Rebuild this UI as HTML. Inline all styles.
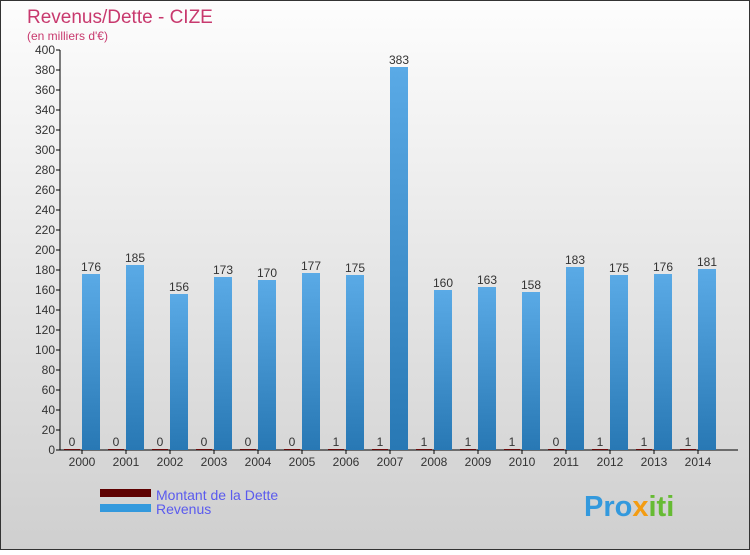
<!DOCTYPE html>
<html><head><meta charset="utf-8"><style>
html,body{margin:0;padding:0;}
body{width:750px;height:550px;overflow:hidden;font-family:"Liberation Sans",sans-serif;}
</style></head><body>
<svg width="750" height="550" xmlns="http://www.w3.org/2000/svg">
<defs>
<linearGradient id="bg" x1="0" y1="0" x2="0" y2="1"><stop offset="0" stop-color="#fdfdfd"/><stop offset="1" stop-color="#cfcfcf"/></linearGradient>
<linearGradient id="rev" x1="0" y1="0" x2="0" y2="1"><stop offset="0" stop-color="#5aaae6"/><stop offset="1" stop-color="#2878b4"/></linearGradient>
</defs>
<rect x="0.5" y="0.5" width="749" height="549" fill="url(#bg)" stroke="#333"/>
<text x="27" y="23" font-size="19" fill="#c8396e">Revenus/Dette - CIZE</text>
<text x="27" y="40" font-size="12" fill="#c8396e">(en milliers d'€)</text>
<g id="axes"></g>
<g id="bars"></g>
<g>
<rect x="100" y="489" width="51" height="8" fill="#5e0000"/>
<text x="156" y="500" font-size="14" fill="#5a5aee">Montant de la Dette</text>
<rect x="100" y="504" width="51" height="8" fill="#3399dd"/>
<text x="156" y="514" font-size="14" fill="#5a5aee">Revenus</text>
</g>
<text x="584" y="516" font-size="29" font-weight="bold" fill="#3399dd">Pro<tspan fill="#f39c12">x</tspan><tspan fill="#66bb33">iti</tspan></text>
</svg>
<script>
const years=['2000','2001','2002','2003','2004','2005','2006','2007','2008','2009','2010','2011','2012','2013','2014'];
const revenus=[176,185,156,173,170,177,175,383,160,163,158,183,175,176,181];
const dette=[0,0,0,0,0,0,1,1,1,1,1,0,1,1,1];
const yTicks=[0,20,40,60,80,100,120,140,160,180,200,220,240,260,280,300,320,340,360,380,400];
const NS='http://www.w3.org/2000/svg';
const y=v=>450-v*400/400;
const xc=i=>82+i*44;
function mk(t,a,p){const e=document.createElementNS(NS,t);for(const k in a)e.setAttribute(k,a[k]);p.appendChild(e);return e;}
const ax=document.getElementById('axes'),bg=document.getElementById('bars');
const yl=mk('line',{x1:60,y1:50,x2:60,y2:450,stroke:'#000'},ax);


const xl=mk('line',{x1:60,y1:450,x2:738,y2:450,stroke:'#000'},ax);


yTicks.forEach(v=>{
 mk('line',{x1:56,y1:y(v),x2:60,y2:y(v),stroke:'#000'},ax);
 const t=mk('text',{x:55,y:y(v)+4,'font-size':12,fill:'#333','text-anchor':'end'},ax);t.textContent=v;
 
 
});
years.forEach((yr,i)=>{
 const c=xc(i);
 mk('line',{x1:c,y1:450,x2:c,y2:454,stroke:'#000'},ax);
 const t=mk('text',{x:c,y:466,'font-size':12,fill:'#333','text-anchor':'middle'},ax);t.textContent=yr;
 
 
 const dh=Math.max(450-y(dette[i]),1);
 const d=mk('rect',{x:c-18,y:450-dh,width:16,height:dh,fill:'#6b0a0a'},bg);
 
 
 const dt=mk('text',{x:c-10,y:450-dh-3,'font-size':12,fill:'#333','text-anchor':'middle'},bg);dt.textContent=dette[i];
 
 
 const r=mk('rect',{x:c,y:y(revenus[i]),width:18,height:450-y(revenus[i]),fill:'url(#rev)'},bg);
 
 
 const rt=mk('text',{x:c+9,y:y(revenus[i])-3,'font-size':12,fill:'#333','text-anchor':'middle'},bg);rt.textContent=revenus[i];
 
 
});
</script>
</body></html>
